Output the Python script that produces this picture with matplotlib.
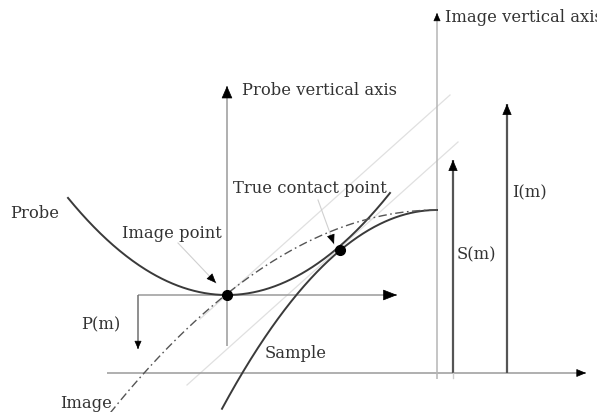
import numpy as np
import matplotlib
matplotlib.use("Agg")
import matplotlib.pyplot as plt

# ---- diagram data (pixel-like coordinates, y grows downward) ----
# Probe: parabola opening upward (apex = image point)
probe_apex = (227, 295)
probe_curv = 0.00384
probe_x_range = (68, 390)
# Sample: inverted parabola with its top at the image vertical axis
sample_top = (437, 210)
sample_curv = 0.0043
sample_x_range = (222, 437)
# Image (dilation of sample by probe): dash-dot
image_top = (437, 210)
image_curv = 0.0019
image_x_range = (110, 437)

image_point = (227, 295)
contact_point = (340, 250)

# axes / arrows: (x0, y0, x1, y1)
baseline = (107, 373, 586, 373)
probe_vaxis = (227, 346, 227, 86)
probe_haxis = (138, 295, 397, 295)
image_vaxis = (437, 379, 437, 13)
pm_arrow = (138, 295, 138, 349)
sm_arrow = (453, 373, 453, 160)
im_arrow = (507, 373, 507, 104)

# faint tangent lines
tangent_contact = (187, 385, 458, 142)
tangent_image = (200, 319, 450, 95)

# labels: text, x, y
labels = [
    ("Probe", 10, 213),
    ("Image point", 122, 233),
    ("True contact point", 233, 188),
    ("Probe vertical axis", 242, 90),
    ("Image vertical axis", 445, 17),
    ("P(m)", 81, 325),
    ("S(m)", 457, 255),
    ("I(m)", 512, 193),
    ("Sample", 265, 353),
    ("Image", 60, 403),
]

# annotation arrows (from, to)
ann_image_point = ((178, 243), (216, 283))
ann_contact = ((318, 200), (334, 244))

fig = plt.figure(figsize=(5.97, 4.12), dpi=100)
ax = fig.add_axes([0, 0, 1, 1])
ax.set_xlim(0, 597)
ax.set_ylim(412, 0)
ax.axis("off")


def head(x0, y0, x1, y1, hl, hw):
    ax.annotate("", xy=(x1, y1), xytext=(x0, y0),
                arrowprops=dict(arrowstyle=f"-|>,head_length={hl},head_width={hw}",
                                lw=0.5, color="black", mutation_scale=10,
                                shrinkA=0, shrinkB=0), zorder=6)


def arrow(seg, color, lw, hl=0.7, hw=0.3):
    x0, y0, x1, y1 = seg
    ax.plot([x0, x1], [y0, y1], color=color, lw=lw, solid_capstyle="butt", zorder=2)
    d = np.hypot(x1 - x0, y1 - y0)
    ux, uy = (x1 - x0) / d, (y1 - y0) / d
    head(x1 - ux * 3, y1 - uy * 3, x1, y1, hl, hw)


# faint lines
for seg in (tangent_contact, tangent_image):
    ax.plot([seg[0], seg[2]], [seg[1], seg[3]], color="#e0e0e0", lw=0.9, zorder=1)

# axes
arrow(baseline, "#9a9a9a", 1.1, 0.6, 0.25)
arrow(probe_vaxis, "#9a9a9a", 1.1, 0.8, 0.35)
arrow(probe_haxis, "#9a9a9a", 1.1, 0.9, 0.35)
arrow(image_vaxis, "#b5b5b5", 1.1, 0.5, 0.22)
arrow(pm_arrow, "#707070", 1.1, 0.5, 0.22)
arrow(sm_arrow, "#555555", 1.6, 0.7, 0.3)
arrow(im_arrow, "#555555", 1.6, 0.7, 0.3)
ax.plot([453, 453], [373, 378], color="#cccccc", lw=1)

# curves
xp = np.linspace(*probe_x_range, 300)
ax.plot(xp, probe_apex[1] - probe_curv * (xp - probe_apex[0]) ** 2,
        color="#3a3a3a", lw=1.4, zorder=3)
xs = np.linspace(*sample_x_range, 300)
ax.plot(xs, sample_top[1] + sample_curv * (xs - sample_top[0]) ** 2,
        color="#3a3a3a", lw=1.4, zorder=3)
xi = np.linspace(*image_x_range, 300)
ax.plot(xi, image_top[1] + image_curv * (xi - image_top[0]) ** 2,
        color="#555555", lw=1.0, ls=(0, (6, 2.5, 1.2, 2.5)), zorder=3)

# points
ax.plot(*image_point, "o", color="black", ms=7, zorder=5)
ax.plot(*contact_point, "o", color="black", ms=7, zorder=5)

# annotation arrows
for (a, b) in (ann_image_point, ann_contact):
    ax.plot([a[0], b[0]], [a[1], b[1]], color="#d0d0d0", lw=0.8, zorder=2)
    d = np.hypot(b[0] - a[0], b[1] - a[1])
    head(b[0] - (b[0] - a[0]) / d * 3, b[1] - (b[1] - a[1]) / d * 3, b[0], b[1], 0.6, 0.25)

for t, x, y in labels:
    ax.text(x, y, t, ha="left", va="center", fontsize=11.8,
            family="DejaVu Serif", color="#333333")

fig.savefig("out.png", dpi=100)
